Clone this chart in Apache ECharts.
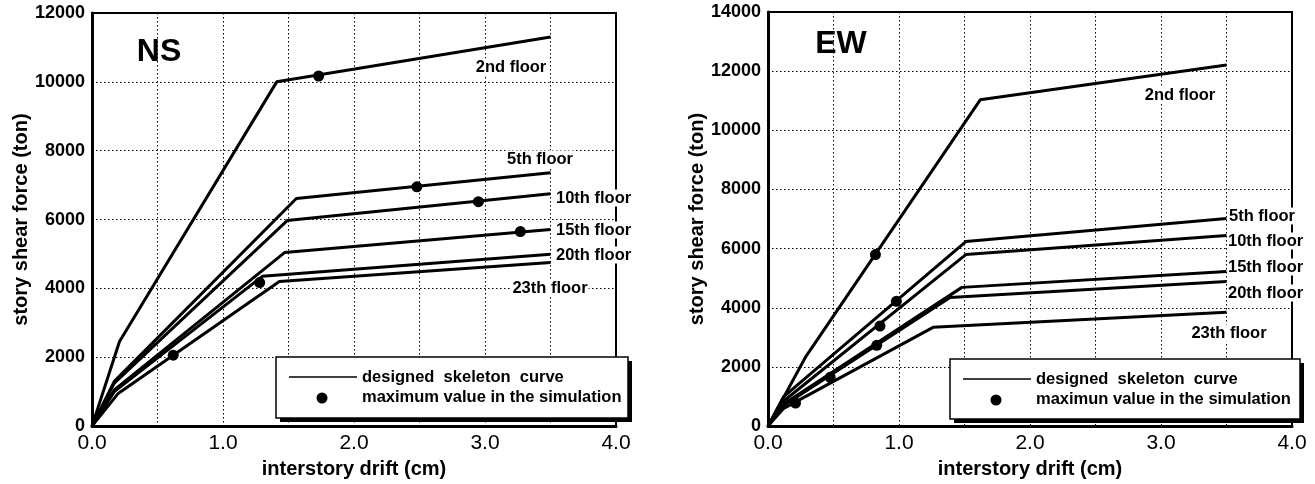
<!DOCTYPE html>
<html>
<head>
<meta charset="utf-8">
<script src="https://cdn.jsdelivr.net/npm/echarts@6/dist/echarts.min.js"></script>
<style>
html,body{margin:0;padding:0;background:#fff;}
#chart{width:1315px;height:484px;}
</style>
</head>
<body>
<div id="chart"></div>
<script>
// ---------- DATA ----------
const xTickLabels = ['0.0', '1.0', '2.0', '3.0', '4.0'];
const floorNames = ['2nd floor', '5th floor', '10th floor', '15th floor', '20th floor', '23th floor'];

// NS direction: designed skeleton curves [drift (cm), shear (ton)]
const ns2nd  = [[0, 0], [0.21, 2460], [1.41, 10000], [3.5, 11300]];
const ns5th  = [[0, 0], [0.17, 1300], [1.56, 6610], [3.5, 7360]];
const ns10th = [[0, 0], [0.17, 1250], [1.49, 5970], [3.5, 6750]];
const ns15th = [[0, 0], [0.17, 1050], [1.47, 5040], [3.5, 5710]];
const ns20th = [[0, 0], [0.17, 1000], [1.30, 4350], [3.5, 4990]];
const ns23th = [[0, 0], [0.20, 950], [1.43, 4200], [3.5, 4750]];
// NS maximum values in the simulation
const nsMax = [[1.73, 10170], [2.48, 6950], [2.95, 6520], [3.27, 5650], [1.28, 4170], [0.62, 2060]];

// EW direction: designed skeleton curves
const ew2nd  = [[0, 0], [0.29, 2360], [1.62, 11030], [3.5, 12210]];
const ew5th  = [[0, 0], [0.12, 1000], [1.51, 6240], [3.5, 7020]];
const ew10th = [[0, 0], [0.12, 850], [1.51, 5800], [3.5, 6440]];
const ew15th = [[0, 0], [0.12, 750], [1.48, 4690], [3.5, 5230]];
const ew20th = [[0, 0], [0.12, 700], [1.39, 4350], [3.5, 4890]];
const ew23th = [[0, 0], [0.12, 600], [1.26, 3340], [3.5, 3850]];
// EW maximum values in the simulation
const ewMax = [[0.82, 5800], [0.98, 4220], [0.855, 3380], [0.83, 2730], [0.475, 1650], [0.21, 780]];

const nsCurves = [ns2nd, ns5th, ns10th, ns15th, ns20th, ns23th];
const ewCurves = [ew2nd, ew5th, ew10th, ew15th, ew20th, ew23th];

// ---------- CHART ----------
const FONT = '"Liberation Sans", Arial, Helvetica, sans-serif';
const chart = echarts.init(document.getElementById('chart'), null, {renderer: 'canvas'});

function xAxisCfg(gridIndex) {
  return {
    gridIndex, type: 'value', min: 0, max: 4, interval: 0.5,
    name: 'interstory drift (cm)', nameLocation: 'middle', nameGap: 29,
    nameTextStyle: {fontFamily: FONT, fontSize: 20, fontWeight: 'bold', color: '#000'},
    axisLine: {show: true, onZero: false, lineStyle: {color: '#000', width: 3}},
    axisTick: {show: false},
    axisLabel: {
      margin: 7, color: '#000', fontFamily: FONT, fontSize: 21,
      formatter: v => (Math.abs(v - Math.round(v)) < 1e-9 ? xTickLabels[Math.round(v)] : '')
    },
    splitLine: {show: true, lineStyle: {color: '#000', width: 1, type: [1.5, 2.5]}}
  };
}
function yAxisCfg(gridIndex, max) {
  return {
    gridIndex, type: 'value', min: 0, max, interval: 2000,
    name: 'story shear force (ton)', nameLocation: 'middle', nameGap: 61,
    nameTextStyle: {fontFamily: FONT, fontSize: 20, fontWeight: 'bold', color: '#000'},
    axisLine: {show: true, onZero: false, lineStyle: {color: '#000', width: 3}},
    axisTick: {show: false},
    axisLabel: {margin: 7, color: '#000', fontFamily: FONT, fontSize: 18, fontWeight: 'bold', formatter: v => String(v)},
    splitLine: {show: true, lineStyle: {color: '#000', width: 1, type: [1.5, 2.5]}}
  };
}

const series = [];
nsCurves.forEach((d, i) => series.push({
  type: 'line', name: 'NS ' + floorNames[i], xAxisIndex: 0, yAxisIndex: 0,
  data: d, symbol: 'none', lineStyle: {color: '#000', width: 3}, z: 3, silent: true
}));
ewCurves.forEach((d, i) => series.push({
  type: 'line', name: 'EW ' + floorNames[i], xAxisIndex: 1, yAxisIndex: 1,
  data: d, symbol: 'none', lineStyle: {color: '#000', width: 3}, z: 3, silent: true
}));
series.push({type: 'scatter', xAxisIndex: 0, yAxisIndex: 0, data: nsMax, symbol: 'circle', symbolSize: 11, itemStyle: {color: '#000', opacity: 1}, z: 4});
series.push({type: 'scatter', xAxisIndex: 1, yAxisIndex: 1, data: ewMax, symbol: 'circle', symbolSize: 11, itemStyle: {color: '#000', opacity: 1}, z: 4});

function label(text, x, y, align) {
  return {
    type: 'text', x, y, z: 100,
    style: {
      text, fontFamily: FONT, fontSize: 16.5, fontWeight: 'bold', fill: '#000',
      align: align || 'left', verticalAlign: 'middle',
      backgroundColor: '#fff', padding: [0, 1]
    }
  };
}
function legend(x, y, w, h, word2) {
  return [
    {type: 'rect', z: 98, shape: {x: x + 4, y: y + 4, width: w, height: h}, style: {fill: '#000'}},
    {type: 'rect', z: 99, shape: {x: x, y: y, width: w, height: h}, style: {fill: '#fff', stroke: '#000', lineWidth: 1.5}},
    {type: 'line', z: 100, shape: {x1: x + 13, y1: y + 20, x2: x + 81, y2: y + 20}, style: {stroke: '#000', lineWidth: 1.5}},
    {type: 'circle', z: 100, shape: {cx: x + 46, cy: y + 41, r: 5.5}, style: {fill: '#000'}},
    {type: 'text', z: 100, x: x + 86, y: y + 20, style: {text: 'designed  skeleton  curve', fontFamily: FONT, fontSize: 16.5, fontWeight: 'bold', fill: '#000', verticalAlign: 'middle'}},
    {type: 'text', z: 100, x: x + 86, y: y + 40, style: {text: word2 + ' value in the simulation', fontFamily: FONT, fontSize: 16.5, fontWeight: 'bold', fill: '#000', verticalAlign: 'middle'}}
  ];
}

const graphics = [
  {type: 'text', z: 100, x: 159, y: 52, style: {text: 'NS', fontFamily: FONT, fontSize: 32, fontWeight: 'bold', fill: '#000', align: 'center', verticalAlign: 'middle'}},
  {type: 'text', z: 100, x: 841, y: 44, style: {text: 'EW', fontFamily: FONT, fontSize: 32, fontWeight: 'bold', fill: '#000', align: 'center', verticalAlign: 'middle'}},
  label(floorNames[0], 511, 67, 'center'),
  label(floorNames[1], 540, 159, 'center'),
  label(floorNames[2], 555, 198),
  label(floorNames[3], 555, 230),
  label(floorNames[4], 555, 255),
  label(floorNames[5], 550, 288, 'center'),
  label(floorNames[0], 1180, 95, 'center'),
  label(floorNames[1], 1228, 216),
  label(floorNames[2], 1227, 241),
  label(floorNames[3], 1227, 267),
  label(floorNames[4], 1227, 293),
  label(floorNames[5], 1229, 333, 'center'),
  ...legend(276, 357, 352, 61, 'maximum'),
  ...legend(950, 359, 350, 60, 'maximun')
];

chart.setOption({
  animation: false,
  backgroundColor: '#fff',
  grid: [
    {left: 92, top: 13, width: 524, height: 414, show: true, borderColor: '#000', borderWidth: 2, backgroundColor: 'transparent'},
    {left: 768, top: 12, width: 524, height: 415, show: true, borderColor: '#000', borderWidth: 2, backgroundColor: 'transparent'}
  ],
  xAxis: [xAxisCfg(0), xAxisCfg(1)],
  yAxis: [yAxisCfg(0, 12000), yAxisCfg(1, 14000)],
  series,
  graphic: graphics
});
</script>
</body>
</html>
